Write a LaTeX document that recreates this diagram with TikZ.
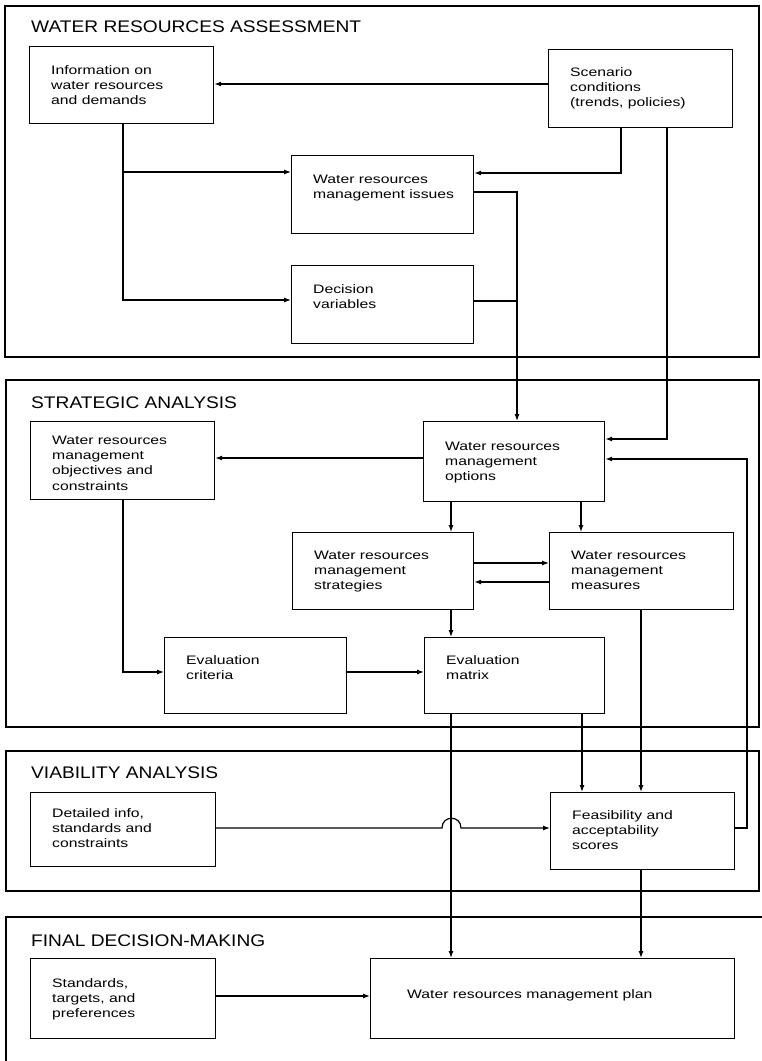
\documentclass[tikz,border=0pt]{standalone}
\usepackage{fontspec}
\setmainfont{Liberation Sans}
\newfontfamily\bodyfont{Liberation Sans}[FakeStretch=1.28]
\newfontfamily\headfont{Liberation Sans}[FakeStretch=1.14]
\usetikzlibrary{arrows.meta,calc}

\newcommand\firstlinestrut{\rule{0pt}{10pt}}
% box: name, left, top, right, bottom, first-baseline offset, text
\newcommand\wbox[7]{%
  \node[box, minimum width={(#4-#2)*1pt}, minimum height={(#5-#3)*1pt}] (#1) at (#2,#3) {};
  \node[txt] (#1-t) at ($(#1.north west)+(22,#6-10)$) {\firstlinestrut#7};
}

\begin{document}
\begin{tikzpicture}[x=1pt,y=-1pt,
  frame/.style={draw, line width=1.2pt},
  box/.style={draw, line width=1.2pt, inner sep=0pt, anchor=north west},
  txt/.style={inner sep=0pt, anchor=north west, align=left,
              font=\bodyfont\fontsize{12.3}{15.3}\selectfont},
  head/.style={inner sep=0pt, anchor=base west,
               font=\headfont\fontsize{16.8}{19}\selectfont},
  arr/.style={line width=1.2pt, -{Latex[length=7pt,width=5pt]}},
  ln/.style={line width=1.2pt}]
\useasboundingbox (0,0) rectangle (762,1061);

% section frames
\draw[frame] (5,6) rectangle (759,357);
\draw[frame] (6,380) rectangle (759,727);
\draw[frame] (6,751) rectangle (759,891);
\draw[frame] (775,917) -- (6,917) -- (6,1075);

% section headings
\node[head] (h1) at (31,32) {WATER RESOURCES ASSESSMENT};
\node[head] (h2) at (31,408) {STRATEGIC ANALYSIS};
\node[head] (h3) at (31,778) {VIABILITY ANALYSIS};
\node[head] (h4) at (31,946) {FINAL DECISION-MAKING};

% water resources assessment
\wbox{info}{29}{46}{213}{123}{28}{Information on\\water resources\\and demands}
\wbox{scen}{548}{49}{732}{127}{27}{Scenario\\conditions\\(trends, policies)}
\wbox{issues}{291}{155}{473}{233}{28}{Water resources\\management issues}
\wbox{dec}{291}{265}{473}{343}{28}{Decision\\variables}

% strategic analysis
\wbox{obj}{30}{421}{214}{499}{23}{Water resources\\management\\objectives and\\constraints}
\wbox{opt}{423}{421}{604}{501}{29}{Water resources\\management\\options}
\wbox{strat}{292}{532}{473}{609}{27}{Water resources\\management\\strategies}
\wbox{meas}{549}{532}{733}{609}{27}{Water resources\\management\\measures}
\wbox{crit}{164}{637}{346}{713}{27}{Evaluation\\criteria}
\wbox{mat}{424}{637}{604}{713}{27}{Evaluation\\matrix}

% viability analysis
\wbox{det}{30}{792}{215}{866}{25}{Detailed info,\\standards and\\constraints}
\wbox{feas}{550}{792}{734}{869}{27}{Feasibility and\\acceptability\\scores}

% final decision-making
\wbox{std}{30}{958}{215}{1038}{29}{Standards,\\targets, and\\preferences}
\node[box, minimum width=364pt, minimum height=80pt] (plan) at (370,958) {};
\node[txt, anchor=base west] (plan-t) at ($(plan.west)+(37,0)$) {Water resources management plan};

% connectors: assessment
\draw[arr] (scen.west |- 0,84) -- (info.east |- 0,84);
\draw[arr] (info.south -| 123,0) |- (issues.west |- 0,172);
\draw[arr] (info.south -| 123,0) |- (dec.west |- 0,300);
\draw[arr] (scen.south -| 621,0) |- (issues.east |- 0,173);
\draw[arr] (scen.south -| 667,0) |- (opt.east |- 0,439);
\coordinate (join) at (517,301);
\draw[arr] (issues.east |- 0,192) -| (opt.north -| join);
\draw[ln] (dec.east |- join) -- (join);

% connectors: strategic analysis
\draw[arr] (opt.west |- 0,458) -- (obj.east |- 0,458);
\draw[arr] (opt.south -| 451,0) -- (strat.north -| 451,0);
\draw[arr] (opt.south -| 581,0) -- (meas.north -| 581,0);
\draw[arr] (strat.east |- 0,563) -- (meas.west |- 0,563);
\draw[arr] (meas.west |- 0,582) -- (strat.east |- 0,582);
\draw[arr] (strat.south -| 451,0) -- (mat.north -| 451,0);
\draw[arr] (obj.south -| 123,0) |- (crit.west |- 0,672);
\draw[arr] (crit.east |- 0,672) -- (mat.west |- 0,672);

% connectors: viability and final decision
\draw[arr] (mat.south -| 451,0) -- (plan.north -| 451,0);
\draw[arr] (mat.south -| 582,0) -- (feas.north -| 582,0);
\draw[arr] (meas.south -| 641,0) -- (feas.north -| 641,0);
\draw[arr] (feas.east |- 0,828) -- (747,828) |- (opt.east |- 0,459);
\draw[arr] (det.east |- 0,828) -- (442,828)
   .. controls (442,815) and (461,815) .. (461,828) -- (feas.west |- 0,828);
\draw[arr] (feas.south -| 641,0) -- (plan.north -| 641,0);
\draw[arr] (std.east |- 0,996) -- (plan.west |- 0,996);
\end{tikzpicture}
\end{document}
